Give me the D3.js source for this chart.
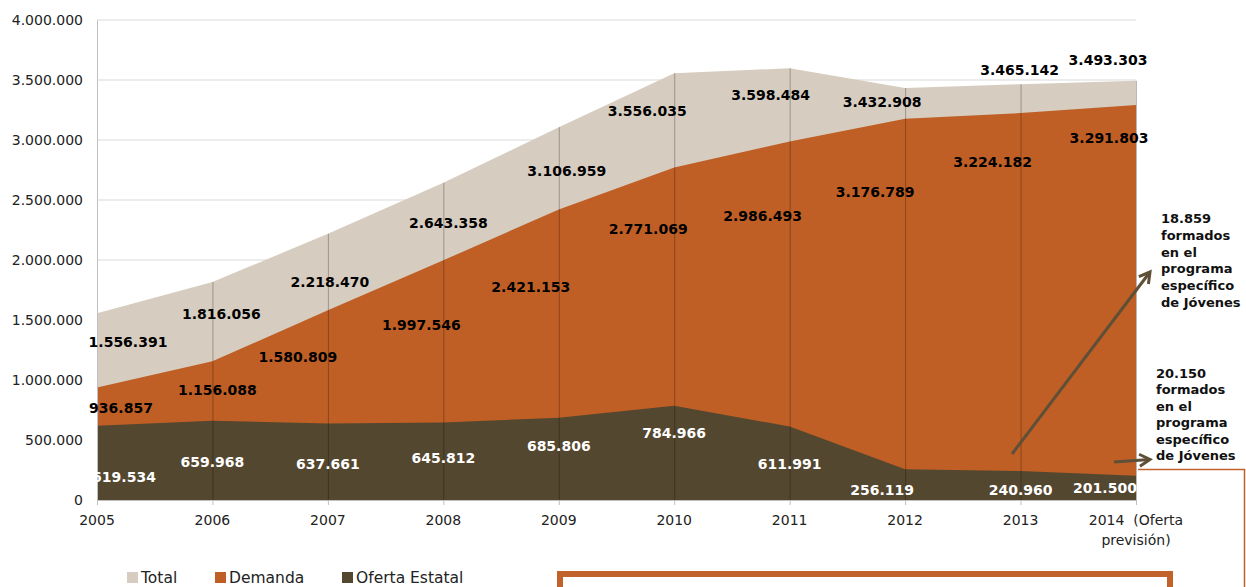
<!DOCTYPE html>
<html><head><meta charset="utf-8">
<script src="https://cdn.jsdelivr.net/npm/d3@7"></script>
<style>body{margin:0;background:#fff}svg{display:block;font-family:"DejaVu Sans",Verdana,sans-serif}</style>
</head><body><svg id="c" width="1246" height="587"></svg>
<script>
const years = [2005,2006,2007,2008,2009,2010,2011,2012,2013,2014];
const yearLabels = ["2005","2006","2007","2008","2009","2010","2011","2012","2013","2014  (Oferta|previsión)"];
const total   = [1556391,1816056,2218470,2643358,3106959,3556035,3598484,3432908,3465142,3493303];
const demanda = [936857,1156088,1580809,1997546,2421153,2771069,2986493,3176789,3224182,3291803];
const oferta  = [619534,659968,637661,645812,685806,784966,611991,256119,240960,201500];
const yTicks  = [0,500000,1000000,1500000,2000000,2500000,3000000,3500000,4000000];
const seriesNames = ["Total","Demanda","Oferta Estatal"];
const colors = ["#D6CDC0","#BF5F26","#54472F"];
// label offsets (px) from each data point
const offTotal = [[31,29],[9,32],[2,48],[5,40],[8,44],[-27,38],[-19,27],[-23,14],[-1,-14],[-28,-21]];
const offDem   = [[24,21],[5,29],[-30,47],[-22,65],[-28,78],[-26,62],[-27,74],[-30,73],[-28,49],[-27,33]];
const offOf    = [[27,51],[0,41],[0,41],[0,36],[0,28],[0,27],[0,38],[-23,21],[0,19],[-31,12]];
const notes = [["18.859","formados","en el","programa","específico","de Jóvenes"],["20.150","formados","en el","programa","específico","de Jóvenes"]];

const svg = d3.select("#c");
const x = d3.scaleLinear().domain([2005,2014]).range([97,1136]);
const y = d3.scaleLinear().domain([0,4000000]).range([500,20]);
const fmt = v => d3.format(",")(v).replace(/,/g,".");

// grid
svg.append("g").selectAll("line").data(yTicks.slice(1)).join("line")
  .attr("x1",x(2005)).attr("x2",x(2014)).attr("y1",d=>y(d)).attr("y2",d=>y(d))
  .attr("stroke","#D9D9D9").attr("stroke-width",1);

const defs = svg.append("defs");

const sets = [total,demanda,oferta];
sets.forEach((s,i)=>{
  const area = d3.area().x((d,j)=>x(years[j])).y0(y(0)).y1(d=>y(d));
  svg.append("path").attr("d",area(s)).attr("fill",colors[i]);
});

// drop lines
svg.append("g").selectAll("line").data(years).join("line")
  .attr("x1",d=>x(d)+0.5).attr("x2",d=>x(d)+0.5).attr("y1",y(0)).attr("y2",(d,i)=>y(total[i]))
  .attr("stroke","#000").attr("stroke-opacity",0.28).attr("stroke-width",1);

// axes
const ax = svg.append("g").attr("transform",`translate(0,${y(0)})`)
  .call(d3.axisBottom(x).tickValues(years).tickSize(5).tickFormat(""));
ax.select(".domain").attr("stroke","#BFBFBF");
ax.selectAll(".tick line").attr("stroke","#BFBFBF");
const ay = svg.append("g").attr("transform",`translate(${x(2005)},0)`)
  .call(d3.axisLeft(y).tickValues(yTicks).tickSize(0).tickPadding(14).tickFormat(fmt));
ay.select(".domain").attr("stroke","#BFBFBF");
ay.selectAll("text").attr("font-size",14).attr("fill","#222").attr("font-family","DejaVu Sans");

// x labels
const xl = svg.append("g");
years.forEach((yr,i)=>{
  const parts = yearLabels[i].split("|");
  const t = xl.append("text").attr("x",x(yr)).attr("y",525).attr("text-anchor","middle")
    .attr("font-size",14).attr("fill","#222").style("white-space","pre");
  parts.forEach((p,k)=>t.append("tspan").attr("x",x(yr)).attr("dy",k?20:0).text(p));
});

// data labels
const lg = svg.append("g").attr("font-weight","bold").attr("font-size",14).attr("text-anchor","middle");
[[total,offTotal,"#000"],[demanda,offDem,"#000"],[oferta,offOf,"#fff"]].forEach(([s,off,c])=>{
  lg.append("g").selectAll("text").data(s).join("text")
    .attr("x",(d,j)=>x(years[j])+off[j][0]).attr("y",(d,j)=>y(d)+off[j][1]).attr("dy","0.35em")
    .attr("fill",c).text(fmt);
});

// arrows
defs.append("marker").attr("id","ah").attr("viewBox","0 0 10 10").attr("refX",8).attr("refY",5)
  .attr("markerWidth",5).attr("markerHeight",5).attr("orient","auto")
  .append("path").attr("d","M1,1 L8,5 L1,9").attr("fill","none").attr("stroke","#5E4F37").attr("stroke-width",2);
svg.append("line").attr("x1",1012).attr("y1",454).attr("x2",1150).attr("y2",272)
  .attr("stroke","#5E4F37").attr("stroke-width",3).attr("marker-end","url(#ah)");
svg.append("line").attr("x1",1114).attr("y1",462).attr("x2",1150).attr("y2",459.5)
  .attr("stroke","#5E4F37").attr("stroke-width",3).attr("marker-end","url(#ah)");

// notes
[[1161,223,16.8],[1156,378,16.4]].forEach(([nx,ny,lh],i)=>{
  const t = svg.append("text").attr("font-size",13).attr("font-weight","bold").attr("fill","#111");
  notes[i].forEach((l,k)=>t.append("tspan").attr("x",nx).attr("y",ny+k*lh).text(l));
});

// boxes
svg.append("path").attr("d","M1138,469.5 H1244.5 V590").attr("fill","none").attr("stroke","#C0622A").attr("stroke-width",1.5);
svg.append("rect").attr("x",560).attr("y",574).attr("width",610).attr("height",40)
  .attr("fill","none").attr("stroke","#C0622A").attr("stroke-width",6);

// legend
const legX = [127,215,342];
seriesNames.forEach((n,i)=>{
  svg.append("rect").attr("x",legX[i]).attr("y",572).attr("width",11).attr("height",11).attr("fill",colors[i]);
  svg.append("text").attr("x",legX[i]+14).attr("y",583).attr("font-size",15.5).attr("fill","#222").text(n);
});
</script></body></html>
